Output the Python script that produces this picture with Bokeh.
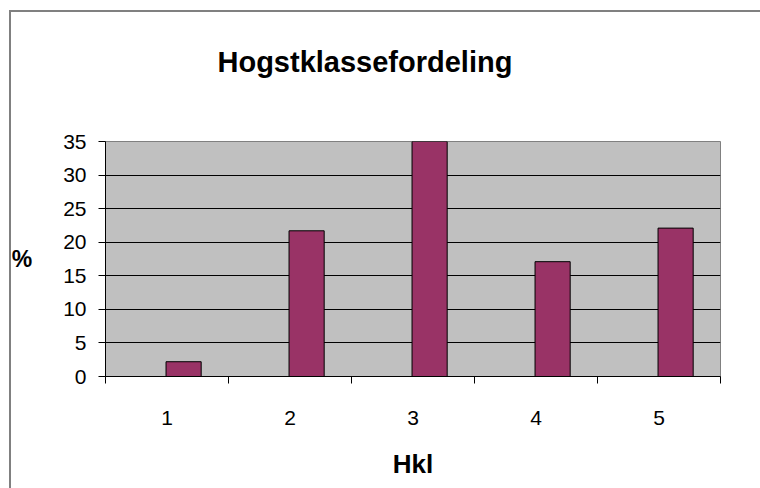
from bokeh.plotting import figure
from bokeh.models import FixedTicker, Range1d, ColumnDataSource, Title
from bokeh.transform import dodge
from bokeh.embed import file_html
from bokeh.resources import INLINE

categories = [1, 2, 3, 4, 5]
percent = [2.2, 21.7, 35.0, 17.1, 22.1]
y_ticks = [0, 5, 10, 15, 20, 25, 30, 35]
title_text = "Hogstklassefordeling"
x_label = "Hkl"
y_label = "%"

FONT = "Liberation Sans"

source = ColumnDataSource(dict(x=categories, y=percent))

x_start, x_end = categories[0] - 0.5, categories[-1] + 0.5
y_start, y_end = y_ticks[0], y_ticks[-1]

p = figure(width=760, height=488,
           x_range=Range1d(x_start, x_end),
           y_range=Range1d(y_start, y_end),
           output_backend="svg", toolbar_location=None,
           min_border_left=105, min_border_right=40,
           min_border_top=141, min_border_bottom=112)

p.background_fill_color = "#C0C0C0"
p.border_fill_color = None
p.outline_line_color = "#808080"
p.outline_line_width = 1
p.styles = {
    "background-color": "white",
    "background-image": "linear-gradient(#808080, #808080), linear-gradient(#808080, #808080)",
    "background-position": "9px 10px, 9px 10px",
    "background-size": "2px 2000px, 2000px 2px",
    "background-repeat": "no-repeat, no-repeat",
    "overflow": "hidden",
}

# spacer between plot area and title, then the title itself
p.add_layout(Title(text=" ", text_font_size="1px", standoff=56), "above")
p.add_layout(Title(text=title_text, align="left", offset=112, standoff=10,
                   text_font=FONT, text_font_size="29px", text_font_style="bold",
                   text_color="black"), "above")

# grid
p.xgrid.visible = False
p.ygrid.ticker = FixedTicker(ticks=y_ticks[1:-1])
p.ygrid.grid_line_color = "black"
p.ygrid.grid_line_width = 1

# y axis
ya = p.yaxis[0]
ya.ticker = FixedTicker(ticks=y_ticks)
ya.major_tick_in = 0
ya.major_tick_out = 7
ya.minor_tick_line_color = None
ya.axis_line_color = "black"
ya.major_tick_line_color = "black"
ya.major_label_text_font = FONT
ya.major_label_text_font_size = "21px"
ya.major_label_text_color = "black"
ya.major_label_standoff = 12
ya.axis_label = y_label
ya.axis_label_orientation = "horizontal"
ya.axis_label_text_font = FONT
ya.axis_label_text_font_size = "23px"
ya.axis_label_text_font_style = "bold"
ya.axis_label_text_color = "black"
ya.axis_label_standoff = 28

# x axis
boundaries = [c - 0.5 for c in categories] + [categories[-1] + 0.5]
xa = p.xaxis[0]
xa.ticker = FixedTicker(ticks=categories, minor_ticks=boundaries)
xa.major_tick_line_color = None
xa.major_tick_in = 0
xa.major_tick_out = 0
xa.minor_tick_in = 0
xa.minor_tick_out = 7
xa.minor_tick_line_color = "black"
xa.axis_line_color = "black"
xa.major_label_text_font = FONT
xa.major_label_text_font_size = "21px"
xa.major_label_text_color = "black"
xa.major_label_standoff = 27
xa.axis_label = x_label
xa.axis_label_text_font = FONT
xa.axis_label_text_font_size = "26px"
xa.axis_label_text_font_style = "bold"
xa.axis_label_text_color = "black"
xa.axis_label_standoff = 21

# bars
p.vbar(x=dodge("x", 0.135, range=p.x_range), top="y", bottom=0, width=0.2857,
       source=source, fill_color="#993366", line_color="black", line_width=1)

open("out.html", "w").write(file_html(p, INLINE))
